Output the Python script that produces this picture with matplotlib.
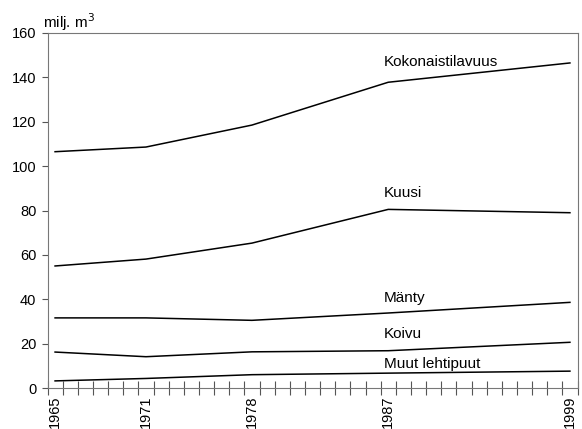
import matplotlib
matplotlib.use("Agg")
import matplotlib.pyplot as plt
import numpy as np

plt.rcParams['font.family'] = ['Liberation Sans', 'DejaVu Sans']

years = [1965, 1971, 1978, 1987, 1999]
kokonais = [106.5, 108.6, 118.5, 137.8, 146.5]
kuusi = [55.0, 58.1, 65.3, 80.5, 79.0]
manty = [31.6, 31.6, 30.5, 33.8, 38.6]
koivu = [16.2, 14.1, 16.3, 16.8, 20.6]
muut = [3.2, 4.3, 6.0, 6.7, 7.6]

series = [kokonais, kuusi, manty, koivu, muut]
names = ["Kokonaistilavuus", "Kuusi", "Mänty", "Koivu", "Muut lehtipuut"]
label_y = [145.1, 86.0, 38.8, 22.4, 9.2]
label_x = 1986.7

fig = plt.figure(figsize=(5.82, 4.29), dpi=100)
ax = fig.add_axes([47.5/582, 1 - 388/429, (577.5-47.5)/582, (388-33)/429])

for s in series:
    ax.plot(years, s, color='black', lw=1.1)
for n, ly in zip(names, label_y):
    ax.text(label_x, ly, n, fontsize=11, ha='left', va='baseline')

ax.set_xlim(1964.5, 1999.5)
ax.set_ylim(0, 160)
ax.set_yticks(np.arange(0, 161, 20))
ax.tick_params(axis='y', labelsize=10.5, length=4, width=0.8, color='#555555', pad=4)
ax.set_xticks(years)
ax.set_xticklabels([str(y) for y in years], rotation=90, fontsize=10.5)
ax.tick_params(axis='x', which='major', length=0, pad=5.5)
ax.set_xticks(np.arange(1964.5, 1999.6, 1.0), minor=True)
ax.tick_params(axis='x', which='minor', direction='inout', length=10, width=0.8, color='#555555')
for sp in ax.spines.values():
    sp.set_color('#777777')
    sp.set_linewidth(0.8)
ax.text(43/582, 1 - 28/429, "milj. m$^3$", transform=fig.transFigure, fontsize=11, ha='left', va='baseline')

fig.savefig("out.png", dpi=100)
